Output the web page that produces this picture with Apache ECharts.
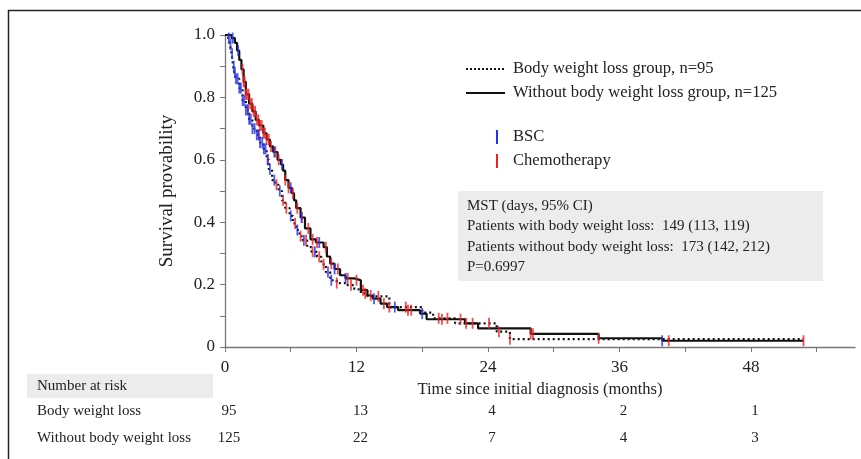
<!DOCTYPE html>
<html>
<head>
<meta charset="utf-8">
<script src="https://cdn.jsdelivr.net/npm/echarts@6/dist/echarts.min.js"></script>
<style>
html, body { margin: 0; padding: 0; background: #fff; }
#main { width: 861px; height: 459px; }
</style>
</head>
<body>
<div id="main"></div>
<script>
// KM steps [months, survival] - body weight loss group (dotted)
var weightLossSteps = [[0,1],[0.3,0.99],[0.45,0.97],[0.6,0.94],[0.75,0.9],[0.85,0.88],[1.0,0.86],[1.3,0.83],[1.6,0.79],
    [1.9,0.76],[2.2,0.73],[2.5,0.70],[2.9,0.68],[3.2,0.655],[3.5,0.635],[3.8,0.6],[4.0,0.57],[4.3,0.535],[4.6,0.52],
    [4.9,0.5],[5.2,0.47],[5.5,0.445],[5.9,0.42],[6.2,0.396],[6.5,0.375],[6.8,0.355],[7.1,0.342],[7.5,0.32],[7.9,0.305],
    [8.4,0.289],[8.8,0.265],[9.2,0.24],[9.6,0.214],[10.2,0.205],[11.1,0.198],[11.8,0.185],[12.4,0.172],[13.0,0.162],
    [15.0,0.128],[18.0,0.11],[19.0,0.092],[21.0,0.076],[24.8,0.049],[26.0,0.025],[52.8,0.025]];
// without body weight loss group (solid)
var withoutLossSteps = [[0,1],[0.6,0.99],[0.9,0.975],[1.1,0.95],[1.3,0.92],[1.5,0.89],[1.7,0.85],[1.9,0.81],[2.2,0.78],
    [2.5,0.755],[2.8,0.728],[3.1,0.71],[3.5,0.685],[3.8,0.665],[4.1,0.643],[4.4,0.625],[4.8,0.6],[5.1,0.585],[5.3,0.565],
    [5.5,0.535],[5.8,0.51],[6.1,0.493],[6.3,0.47],[6.5,0.445],[6.9,0.415],[7.3,0.38],[7.8,0.345],[8.3,0.335],[9.0,0.32],
    [9.3,0.29],[9.6,0.267],[10.0,0.25],[10.5,0.23],[11.0,0.22],[11.8,0.214],[12.4,0.182],[13.0,0.165],[13.5,0.155],
    [14.2,0.139],[14.8,0.128],[15.8,0.118],[17.8,0.107],[18.4,0.089],[21.9,0.076],[23.1,0.06],[27.9,0.042],[34.1,0.028],
    [39.9,0.02],[52.8,0.02]];

// censored times (months)
var censorLossBSC = [0.35,0.5,0.65,0.8,0.9,1.0,1.15,1.3,1.45,1.6,1.75,1.9,2.05,2.2,2.35,2.5,2.7,2.9,3.05,3.2,3.4,3.55,
    3.7,3.9,4.1,4.5,5.0,6.0,6.6,7.2,8.2,9.4,9.7,15.5];
var censorLossChemo = [2.1,3.1,3.9,4.7,5.3,5.6,6.4,6.9,7.4,8.0,8.6,9.0,10.2,11.5,12.8,14.0,16.5,19.5,20.3,22.0,24.1,25.0,26.0];
var censorWithoutBSC = [0.7,1.2,4.5,5.2,6.0,7.0,8.6,10.0,11.0,13.6,18.0,39.9];
var censorWithoutChemo = [1.6,1.7,1.8,1.9,2.0,2.15,2.3,2.45,2.6,2.75,2.9,3.05,3.2,3.35,3.5,3.65,3.8,4.0,4.2,4.6,4.9,
    5.5,5.8,6.2,6.6,7.0,7.6,8.0,8.4,9.2,9.7,10.3,11.2,12.0,12.6,13.3,14.5,15.0,16.7,17.0,19.8,21.5,22.6,27.9,28.1,
    34.1,40.5,52.8];

var xTicks = [0, 12, 24, 36, 48];
var riskLoss = [95, 13, 4, 2, 1];
var riskWithout = [125, 22, 7, 4, 3];

var serif = "'Liberation Serif', 'DejaVu Serif', serif";
var txt = '#222';

function survAt(steps, t) {
    var s = 1;
    for (var i = 0; i < steps.length; i++) {
        if (steps[i][0] <= t) s = steps[i][1];
    }
    return s;
}
function censorData(steps, times) {
    return times.map(function (t) { return [t, survAt(steps, t)]; });
}
function censorSeries(steps, times, color) {
    return {
        type: 'scatter',
        data: censorData(steps, times),
        symbol: 'rect',
        symbolSize: [1.8, 11],
        itemStyle: { color: color },
        clip: false,
        z: 3
    };
}

var myChart = echarts.init(document.getElementById('main'));
var option = {
    backgroundColor: '#fff',
    animation: false,
    grid: { left: 225, right: 6, top: 35, bottom: 112 },
    xAxis: {
        type: 'value',
        min: 0,
        max: 57.5,
        interval: 6,
        name: 'Time since initial diagnosis (months)',
        nameLocation: 'middle',
        nameGap: 28,
        nameTextStyle: { fontFamily: serif, fontSize: 16.5, color: txt },
        axisLine: { lineStyle: { color: '#777', width: 1.3 } },
        axisTick: { show: true, length: 5, lineStyle: { color: '#777' } },
        axisLabel: {
            margin: 12,
            fontFamily: serif, fontSize: 17, color: txt,
            showMaxLabel: false,
            formatter: function (v) { return (Math.round(v) % 12 === 0) ? String(Math.round(v)) : ''; }
        },
        splitLine: { show: false }
    },
    yAxis: {
        type: 'value',
        min: 0,
        max: 1,
        interval: 0.1,
        name: 'Survival provability',
        nameLocation: 'middle',
        nameGap: 48,
        nameTextStyle: { fontFamily: serif, fontSize: 19, color: txt },
        axisLine: { show: true, lineStyle: { color: '#777', width: 1.3 } },
        axisTick: { show: true, length: 5, lineStyle: { color: '#777' } },
        axisLabel: {
            margin: 10,
            fontFamily: serif, fontSize: 17, color: txt,
            formatter: function (v) {
                var k = Math.round(v * 10);
                if (k % 2 !== 0) return '';
                return k === 0 ? '0' : (k / 10).toFixed(1);
            }
        },
        splitLine: { show: false }
    },
    series: [
        {
            type: 'line', step: 'end', showSymbol: false, symbol: 'none',
            data: withoutLossSteps,
            lineStyle: { color: '#111', width: 2.2 },
            z: 2
        },
        {
            type: 'line', step: 'end', showSymbol: false, symbol: 'none',
            data: weightLossSteps,
            lineStyle: { color: '#111', width: 2.2, type: [2, 3] },
            z: 2
        },
        censorSeries(weightLossSteps, censorLossChemo, '#ee2222'),
        censorSeries(withoutLossSteps, censorWithoutChemo, '#ee2222'),
        censorSeries(weightLossSteps, censorLossBSC, '#2233ee'),
        censorSeries(withoutLossSteps, censorWithoutBSC, '#2233ee')
    ]
};
myChart.setOption(option);

// legend, annotation box, risk table
var g = [];
g.push({ type: 'rect', shape: { x: 8.5, y: 10.5, width: 900, height: 500 }, style: { fill: null, stroke: '#222', lineWidth: 1.5 }, z: 0 });
g.push({ type: 'line', shape: { x1: 466, y1: 69, x2: 505, y2: 69 }, style: { stroke: '#111', lineWidth: 2, lineDash: [2, 2] } });
g.push({ type: 'text', x: 513, y: 69, style: { text: 'Body weight loss group, n=95', font: '16.6px ' + serif, fill: txt, verticalAlign: 'middle' } });
g.push({ type: 'line', shape: { x1: 466, y1: 93, x2: 505, y2: 93 }, style: { stroke: '#111', lineWidth: 2.2 } });
g.push({ type: 'text', x: 513, y: 93, style: { text: 'Without body weight loss group, n=125', font: '16.6px ' + serif, fill: txt, verticalAlign: 'middle' } });
g.push({ type: 'line', shape: { x1: 497, y1: 130, x2: 497, y2: 144 }, style: { stroke: '#2233ee', lineWidth: 2 } });
g.push({ type: 'text', x: 513, y: 137, style: { text: 'BSC', font: '16.6px ' + serif, fill: txt, verticalAlign: 'middle' } });
g.push({ type: 'line', shape: { x1: 497, y1: 154, x2: 497, y2: 168 }, style: { stroke: '#ee2222', lineWidth: 2 } });
g.push({ type: 'text', x: 513, y: 161, style: { text: 'Chemotherapy', font: '16.6px ' + serif, fill: txt, verticalAlign: 'middle' } });

g.push({ type: 'rect', shape: { x: 458, y: 191, width: 365, height: 90 }, style: { fill: '#ececec' }, z: 1 });
var mst = ['MST (days, 95% CI)', 'Patients with body weight loss:  149 (113, 119)',
    'Patients without body weight loss:  173 (142, 212)', 'P=0.6997'];
mst.forEach(function (s, i) {
    g.push({ type: 'text', x: 467, y: 206 + i * 20.5, z: 2, style: { text: s, font: '15px ' + serif, fill: txt, verticalAlign: 'middle' } });
});

g.push({ type: 'rect', shape: { x: 27, y: 374, width: 186, height: 24 }, style: { fill: '#ececec' } });
g.push({ type: 'text', x: 37, y: 386, style: { text: 'Number at risk', font: '15px ' + serif, fill: txt, verticalAlign: 'middle' } });
g.push({ type: 'text', x: 37, y: 411, style: { text: 'Body weight loss', font: '15px ' + serif, fill: txt, verticalAlign: 'middle' } });
g.push({ type: 'text', x: 37, y: 438, style: { text: 'Without body weight loss', font: '15px ' + serif, fill: txt, verticalAlign: 'middle' } });
xTicks.forEach(function (t, i) {
    var px = myChart.convertToPixel({ xAxisIndex: 0 }, t) + 4;
    g.push({ type: 'text', x: px, y: 411, style: { text: String(riskLoss[i]), font: '15px ' + serif, fill: txt, align: 'center', verticalAlign: 'middle' } });
    g.push({ type: 'text', x: px, y: 438, style: { text: String(riskWithout[i]), font: '15px ' + serif, fill: txt, align: 'center', verticalAlign: 'middle' } });
});
myChart.setOption({ graphic: g });
</script>
</body>
</html>
